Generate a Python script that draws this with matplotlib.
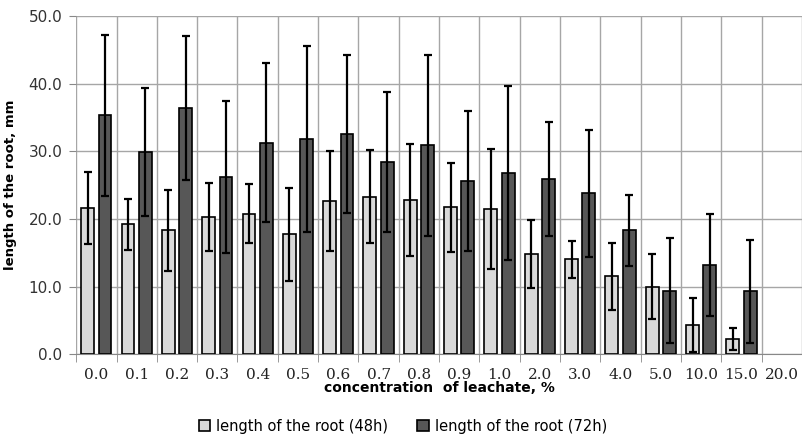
import matplotlib.pyplot as plt
import numpy as np

conc = ["0.0", "0.1", "0.2", "0.3", "0.4", "0.5", "0.6", "0.7", "0.8", "0.9",
        "1.0", "2.0", "3.0", "4.0", "5.0", "10.0", "15.0", "20.0"]
root48 = [21.6, 19.2, 18.3, 20.3, 20.8, 17.7, 22.7, 23.3, 22.8, 21.7,
          21.5, 14.8, 14.0, 11.5, 10.0, 4.3, 2.2, 0]
err48 = [5.3, 3.8, 6.0, 5.0, 4.4, 6.9, 7.4, 6.9, 8.3, 6.6,
         8.9, 5.0, 2.75, 5.0, 4.8, 4.0, 1.6, 0]
root72 = [35.3, 29.9, 36.4, 26.2, 31.3, 31.8, 32.6, 28.4, 30.9, 25.6,
          26.8, 25.9, 23.8, 18.3, 9.4, 13.2, 9.3, 0]
err72 = [11.9, 9.5, 10.6, 11.3, 11.8, 13.8, 11.7, 10.3, 13.4, 10.4,
         12.9, 8.4, 9.4, 5.3, 7.8, 7.6, 7.6, 0]

x = np.arange(len(conc))

fig = plt.figure(figsize=(8.02, 4.34), dpi=100)
ax = fig.add_axes([0.095, 0.184, 0.905, 0.779])

w = 0.32
ekw = dict(ecolor="black", elinewidth=1.6, capsize=3, capthick=1.6)
m48 = [v > 0 for v in root48]
m72 = [v > 0 for v in root72]
ax.bar(x[m48] - 0.215, np.array(root48)[m48], w, color="#d9d9d9", edgecolor="black",
       linewidth=1.2, yerr=np.array(err48)[m48], error_kw=ekw, zorder=3,
       label="length of the root (48h)")
ax.bar(x[m72] + 0.215, np.array(root72)[m72], w, color="#575757", edgecolor="black",
       linewidth=1.2, yerr=np.array(err72)[m72], error_kw=ekw, zorder=3,
       label="length of the root (72h)")

ax.set_xlim(-0.5, 17.45)
ax.set_ylim(0, 50)
ax.set_yticks(np.arange(0, 51, 10))
ax.set_yticklabels([f"{v:.1f}" for v in np.arange(0, 51, 10)], fontsize=11, color="#333333")
ax.set_xticks(x)
ax.set_xticklabels(conc, fontsize=11, family="DejaVu Serif", color="#222222")
ax.tick_params(axis="x", length=0, pad=10)
ax.tick_params(axis="y", length=5, color="#888888", pad=5)

# category boundary grid
ax.set_xticks(np.arange(-0.5, 18, 1), minor=True)
ax.tick_params(axis="x", which="minor", length=6, color="#888888")
ax.grid(True, which="minor", axis="x", color="#a6a6a6", linewidth=1, zorder=0)
ax.grid(True, which="major", axis="y", color="#a6a6a6", linewidth=1, zorder=0)
for s in ["top", "right", "left"]:
    ax.spines[s].set_visible(False)
ax.spines["bottom"].set_color("#888888")

ax.set_xlabel("concentration  of leachate, %", fontsize=10, fontweight="bold", labelpad=-1)
ax.set_ylabel("length of the root, mm", fontsize=9.5, fontweight="bold", labelpad=8)

ax.legend(loc="center", bbox_to_anchor=(0.45, -0.213), ncol=2, frameon=False,
          fontsize=10.5, handlelength=0.8, handleheight=0.8, columnspacing=2.0,
          handletextpad=0.4)

fig.savefig("out.png", dpi=100)
